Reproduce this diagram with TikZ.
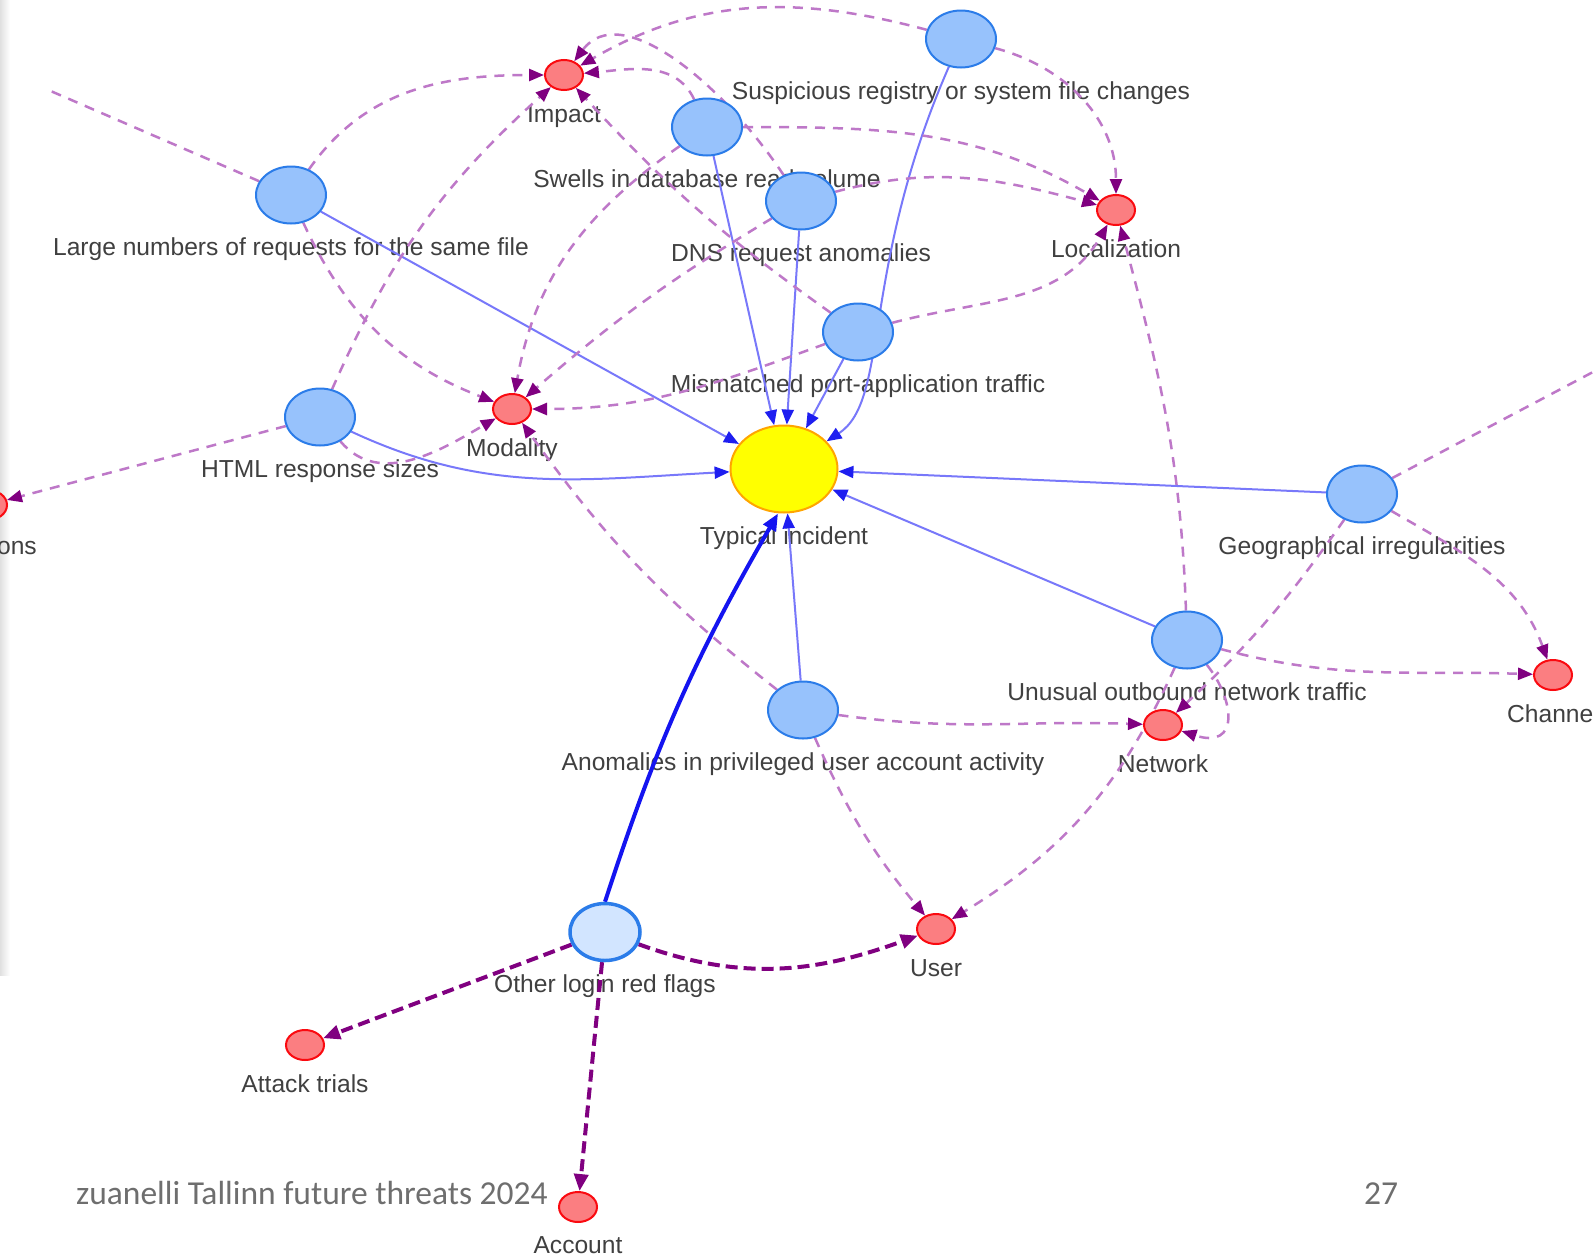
\documentclass[tikz,border=0pt]{standalone}
\usepackage{fontspec}
\setmainfont{Liberation Sans}
\newfontfamily\footfont{Carlito}
\usetikzlibrary{shapes.geometric, arrows.meta, positioning}
\definecolor{IocFill}{HTML}{97C2FC}
\definecolor{IocBorder}{HTML}{2B7CE9}
\definecolor{SelFill}{HTML}{D2E5FF}
\definecolor{TgtFill}{HTML}{FB7E81}
\definecolor{TgtBorder}{HTML}{FA0A10}
\definecolor{IncFill}{HTML}{FFFF00}
\definecolor{IncBorder}{HTML}{FFA500}
\definecolor{LinkBlue}{HTML}{7878FA}
\definecolor{TipBlue}{HTML}{1E1EF0}
\definecolor{StrongBlue}{HTML}{1414F0}
\definecolor{DashPurple}{HTML}{BE78C8}
\definecolor{TipPurple}{HTML}{800080}
\definecolor{LabelGrey}{HTML}{404040}
\definecolor{FootGrey}{HTML}{6E6E6E}
\pgfdeclarelayer{paper}
\pgfdeclarelayer{labels}
\pgfdeclarelayer{edges}
\pgfsetlayers{paper,labels,edges,main}
\tikzset{
    % Node styles
    iocnode/.style={
        ellipse,
        draw=IocBorder,
        fill=IocFill,
        line width=2pt,
        minimum width=70pt,
        minimum height=57pt,
        inner sep=0pt
    },
    selnode/.style={
        iocnode,
        fill=SelFill,
        line width=3.5pt
    },
    tgtnode/.style={
        ellipse,
        draw=TgtBorder,
        fill=TgtFill,
        line width=2pt,
        minimum width=38pt,
        minimum height=30pt,
        inner sep=0pt
    },
    incnode/.style={
        ellipse,
        draw=IncBorder,
        fill=IncFill,
        line width=2pt,
        minimum width=107pt,
        minimum height=87pt,
        inner sep=0pt
    },
    lbl/.style={
        anchor=base,
        inner sep=0pt,
        text=LabelGrey,
        font=\fontsize{24.6}{28}\selectfont
    },
    % Arrow styles
    bluelink/.style={
        LinkBlue,
        line width=2pt,
        -{Triangle[length=15pt,width=12pt,color=TipBlue]}
    },
    strongblue/.style={
        StrongBlue,
        line width=4pt,
        -{Triangle[length=17pt,width=14pt]}
    },
    dashlink/.style={
        DashPurple,
        line width=2.5pt,
        dash pattern=on 10pt off 8pt,
        -{Triangle[length=15pt,width=12pt,color=TipPurple]}
    },
    strongdash/.style={
        TipPurple,
        line width=4pt,
        dash pattern=on 12pt off 6pt,
        -{Triangle[length=17pt,width=14pt]}
    }
}
\begin{document}
\begin{tikzpicture}[x=1pt, y=1pt]
    \useasboundingbox (0,0) rectangle (1593,-1253);
    \begin{pgfonlayer}{paper}
        \fill[white] (0,0) rectangle (1593,-1253);
        \shade[left color=black!12, right color=white] (0,0) rectangle (10,-975);
    \end{pgfonlayer}

    % Indicator nodes
    \node[iocnode] (large) at (291,-195) {};
    \node[tgtnode] (impact) at (564,-75) {};
    \node[iocnode] (susp) at (961,-39) {};
    \node[iocnode] (swells) at (707,-127) {};
    \node[iocnode] (dns) at (801,-201) {};
    \node[tgtnode] (loc) at (1116,-210) {};
    \node[iocnode] (mism) at (858,-332) {};
    \node[tgtnode] (modal) at (512,-409) {};
    \node[iocnode] (html) at (320,-417) {};
    \node[incnode] (typ) at (784,-469) {};
    \node[iocnode] (geo) at (1362,-494) {};
    \node[iocnode] (unus) at (1187,-640) {};
    \node[tgtnode] (chan) at (1553,-675) {};
    \node[tgtnode] (netw) at (1163,-725) {};
    \node[iocnode] (anom) at (803,-710) {};
    \node[tgtnode] (user) at (936,-929) {};
    \node[selnode] (other) at (605,-932) {};
    \node[tgtnode] (attack) at (305,-1045) {};
    \node[tgtnode] (account) at (578,-1207) {};
    \node[tgtnode] (lefttgt) at (-12,-505) {};
    \coordinate (topleft) at (46,-89);
    \coordinate (rightedge) at (1593,-372);

    % Labels under the nodes
    \begin{pgfonlayer}{labels}
        \node[lbl] at ([yshift=-60pt]large.center) {Large numbers of requests for the same file};
        \node[lbl] at ([yshift=-47.5pt]impact.center) {Impact};
        \node[lbl] at ([yshift=-60pt]susp.center) {Suspicious registry or system file changes};
        \node[lbl] at ([yshift=-60pt]swells.center) {Swells in database read volume};
        \node[lbl] at ([yshift=-60pt]dns.center) {DNS request anomalies};
        \node[lbl] at ([yshift=-47.5pt]loc.center) {Localization};
        \node[lbl] at ([yshift=-60pt]mism.center) {Mismatched port-application traffic};
        \node[lbl] at ([yshift=-47.5pt]modal.center) {Modality};
        \node[lbl] at ([yshift=-60pt]html.center) {HTML response sizes};
        \node[lbl] at ([yshift=-75pt]typ.center) {Typical incident};
        \node[lbl] at ([yshift=-60pt]geo.center) {Geographical irregularities};
        \node[lbl] at ([yshift=-60pt]unus.center) {Unusual outbound network traffic};
        \node[lbl] at ([yshift=-47.5pt]chan.center) {Channel};
        \node[lbl] at ([yshift=-47.5pt]netw.center) {Network};
        \node[lbl] at ([yshift=-60pt]anom.center) {Anomalies in privileged user account activity};
        \node[lbl] at ([yshift=-47.5pt]user.center) {User};
        \node[lbl] at ([yshift=-60pt]other.center) {Other login red flags};
        \node[lbl] at ([yshift=-47.5pt]attack.center) {Attack trials};
        \node[lbl] at ([yshift=-46pt]account.center) {Account};
        \node[lbl, anchor=base east] at (37,-554) {ons};
    \end{pgfonlayer}

    \begin{pgfonlayer}{edges}
        % Blue links into the incident
        \draw[bluelink] (large) -- (typ);
        \draw[bluelink] (html) to[out=-25,in=183] (typ);
        \draw[bluelink] (swells) -- (typ);
        \draw[bluelink] (dns) -- (typ);
        \draw[bluelink] (susp) .. controls (860,-270) and (890,-400) .. (typ);
        \draw[bluelink] (mism) -- (typ);
        \draw[bluelink] (geo) -- (typ);
        \draw[bluelink] (unus) -- (typ);
        \draw[bluelink] (anom) -- (typ);
        \draw[strongblue] (other.north) to[bend left=6] ([xshift=-6pt]typ.south);

        % Dashed links into impact
        \draw[dashlink] (large) to[out=55,in=180] (impact);
        \draw[dashlink] (html) to[bend left=12] (impact);
        \draw[dashlink] (susp) to[out=165,in=30] (impact);
        \draw[dashlink] (swells) to[out=115,in=5] (impact);
        \draw[dashlink] (dns) .. controls (720,-80) and (620,0) .. (impact);
        \draw[dashlink] (mism) to[bend left=6] (impact);

        % Dashed links into localization
        \draw[dashlink] (susp) to[out=-15,in=90] (loc);
        \draw[dashlink] (swells) to[out=0,in=150] (loc);
        \draw[dashlink] (dns) to[out=15,in=165] (loc);
        \draw[dashlink] (mism) to[out=15,in=-120] (loc);
        \draw[dashlink] (unus) to[out=92,in=-75] (loc);

        % Dashed links into modality
        \draw[dashlink] (large) to[bend right=22] (modal);
        \draw[dashlink] (swells) to[out=215,in=80] (modal);
        \draw[dashlink] (dns) to[bend right=5] (modal);
        \draw[dashlink] (mism) to[out=200,in=0] (modal);
        \draw[dashlink] (html) to[out=-50,in=210] (modal);
        \draw[dashlink] (anom) to[bend left=8] (modal);

        % Dashed links into network and channel
        \draw[dashlink] (anom) to[out=-8,in=178] (netw);
        \draw[dashlink] (geo) to[bend left=6] (netw);
        \draw[dashlink] (unus) .. controls (1235,-700) and (1240,-750) .. (netw);
        \draw[dashlink] (geo) to[out=-30,in=110] (chan);
        \draw[dashlink] (unus) to[out=-15,in=178] (chan);

        % Dashed links into user
        \draw[dashlink] (unus) to[bend left=17] (user);
        \draw[dashlink] (anom) to[bend right=8] (user);

        % Login red flags
        \draw[strongdash] (other) to[out=-20,in=200] (user);
        \draw[strongdash] (other) -- (attack);
        \draw[strongdash] (other) -- (account);

        % Links leaving the frame
        \draw[dashlink] (html) -- (lefttgt);
        \draw[dashlink, -] (large) -- (topleft);
        \draw[dashlink, -] (geo) -- (rightedge);
    \end{pgfonlayer}

    % Slide footer
    \node[anchor=base west, inner sep=0pt, text=FootGrey, font=\footfont\fontsize{33.5}{38}\selectfont] (footer) at (76,-1204) {zuanelli Tallinn future threats 2024};
    \node[anchor=base, inner sep=0pt, text=FootGrey, font=\footfont\fontsize{33.5}{38}\selectfont] (pageno) at (1381,-1204) {27};
\end{tikzpicture}
\end{document}
